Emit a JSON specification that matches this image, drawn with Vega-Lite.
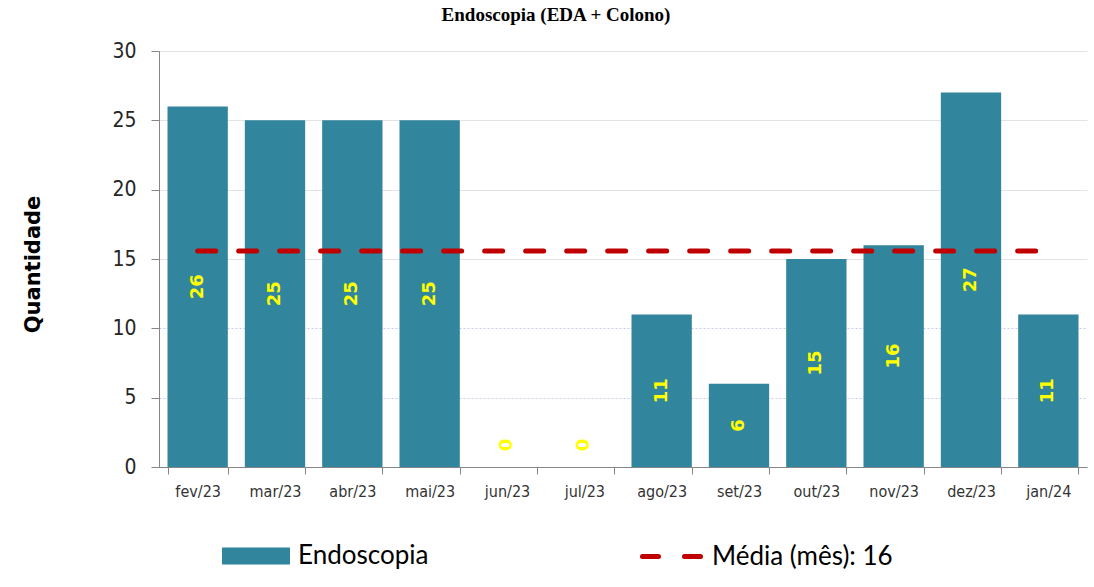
{
  "$schema": "https://vega.github.io/schema/vega-lite/v6.json",
  "width": 928,
  "height": 416,
  "autosize": {"type": "none"},
  "padding": {"left": 159, "top": 51, "right": 7, "bottom": 120},
  "background": "white",
  "title": {
    "text": "Endoscopia (EDA + Colono)",
    "font": "Liberation Serif",
    "fontSize": 19,
    "fontWeight": "bold",
    "color": "#000000",
    "anchor": "middle",
    "baseline": "alphabetic",
    "offset": 0,
    "dx": -67
  },
  "data": {
    "values": [
      {"mes": "fev/23", "qtd": 26, "media": 15.58},
      {"mes": "mar/23", "qtd": 25, "media": 15.58},
      {"mes": "abr/23", "qtd": 25, "media": 15.58},
      {"mes": "mai/23", "qtd": 25, "media": 15.58},
      {"mes": "jun/23", "qtd": 0, "media": 15.58},
      {"mes": "jul/23", "qtd": 0, "media": 15.58},
      {"mes": "ago/23", "qtd": 11, "media": 15.58},
      {"mes": "set/23", "qtd": 6, "media": 15.58},
      {"mes": "out/23", "qtd": 15, "media": 15.58},
      {"mes": "nov/23", "qtd": 16, "media": 15.58},
      {"mes": "dez/23", "qtd": 27, "media": 15.58},
      {"mes": "jan/24", "qtd": 11, "media": 15.58}
    ]
  },
  "encoding": {
    "x": {
      "field": "mes",
      "type": "nominal",
      "sort": null,
      "scale": {"paddingInner": 0.22, "paddingOuter": 0.11},
      "axis": {
        "title": null,
        "labelAngle": 0,
        "tickBand": "extent",
        "tickSize": 7,
        "tickColor": "#868686",
        "domainColor": "#868686",
        "labelFont": "DejaVu Sans Condensed, Lato",
        "labelFontSize": 16,
        "labelColor": "#333333",
        "labelPadding": 9,
        "grid": false
      }
    }
  },
  "layer": [
    {
      "mark": {"type": "bar"},
      "encoding": {
        "y": {
          "field": "qtd",
          "type": "quantitative",
          "scale": {"domain": [0, 30]},
          "axis": {
            "title": "Quantidade",
            "values": [0, 5, 10, 15, 20, 25, 30],
            "grid": true,
            "gridColor": {"condition": {"test": "datum.value < 15", "value": "#C9C9EE"}, "value": "#E3E3E3"},
            "gridDash": {"condition": {"test": "datum.value < 15", "value": [2, 2]}, "value": []},
            "tickSize": 8,
            "tickColor": "#868686",
            "domainColor": "#868686",
            "labelPadding": 15,
            "labelFont": "DejaVu Sans Condensed, Lato",
            "labelFontSize": 21,
            "labelColor": "#262626",
            "titleFont": "DejaVu Sans",
            "titleFontWeight": "bold",
            "titleFontSize": 21,
            "titleColor": "#000000",
            "titleAngle": 270,
            "titleX": -126,
            "titleY": 213,
            "titleAlign": "center",
            "titleBaseline": "middle"
          }
        },
        "color": {
          "datum": "Endoscopia",
          "type": "nominal",
          "scale": {"range": ["#31859C"]},
          "legend": {
            "title": null,
            "orient": "none",
            "legendX": 63,
            "legendY": 471,
            "padding": 0,
            "symbolType": "M-1,-0.25H1V0.25H-1Z",
            "symbolSize": 4624,
            "symbolStrokeWidth": 0,
            "symbolOpacity": 1,
            "labelFont": "Lato",
            "labelFontSize": 26,
            "labelLimit": 400,
            "labelColor": "#000000",
            "labelOffset": 8
          }
        }
      }
    },
    {
      "transform": [{"filter": "datum.qtd > 0"}],
      "mark": {"type": "text", "angle": 270, "align": "center", "baseline": "middle", "color": "#FFFF00", "font": "DejaVu Sans", "fontWeight": "bold", "fontSize": 18},
      "encoding": {
        "y": {"field": "qtd", "type": "quantitative", "scale": {"domain": [0, 60]}, "axis": null},
        "text": {"field": "qtd", "type": "quantitative"}
      }
    },
    {
      "transform": [{"filter": "datum.qtd == 0"}],
      "mark": {"type": "text", "angle": 270, "align": "center", "baseline": "middle", "dx": 22, "color": "#FFFF00", "font": "DejaVu Sans", "fontWeight": "bold", "fontSize": 18},
      "encoding": {
        "y": {"field": "qtd", "type": "quantitative", "scale": {"domain": [0, 60]}, "axis": null},
        "text": {"field": "qtd", "type": "quantitative"}
      }
    },
    {
      "mark": {"type": "line", "strokeWidth": 5, "strokeDash": [18, 23], "strokeCap": "round"},
      "encoding": {
        "y": {"field": "media", "type": "quantitative", "scale": {"domain": [0, 30]}, "axis": null},
        "stroke": {
          "datum": "Média (mês): 16",
          "type": "nominal",
          "scale": {"range": ["#C00000"]},
          "legend": {
            "title": null,
            "orient": "none",
            "legendX": 481,
            "legendY": 474,
            "padding": 0,
            "symbolType": "stroke",
            "symbolSize": 3364,
            "symbolStrokeWidth": 5,
            "symbolDash": [16, 26],
            "labelFont": "Lato",
            "labelFontSize": 26,
            "labelLimit": 400,
            "labelColor": "#000000",
            "labelOffset": 9,
            "encode": {"symbols": {"update": {"strokeCap": {"value": "round"}}}}
          }
        }
      }
    }
  ],
  "resolve": {"scale": {"y": "independent"}},
  "config": {
    "view": {"stroke": null}
  }
}
